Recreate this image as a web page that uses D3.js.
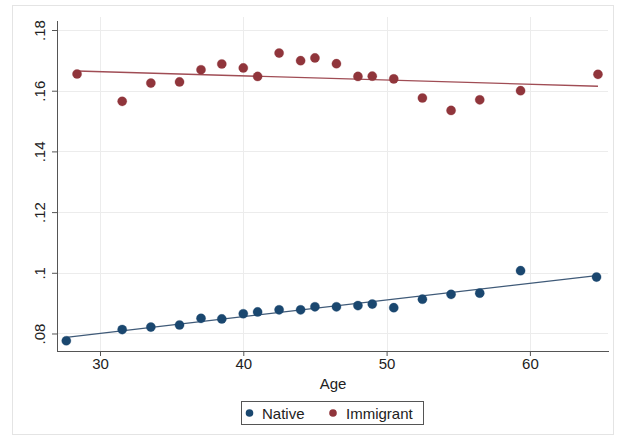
<!DOCTYPE html>
<html><head><meta charset="utf-8">
<script src="https://cdn.jsdelivr.net/npm/d3@7"></script>
<style>body{margin:0;background:#fff;}svg{display:block;font-family:"Liberation Sans",Arial,sans-serif;}</style>
</head><body><svg id="c" width="621" height="447"></svg>
<script>
const ages = [28.4, 31.55, 33.55, 35.55, 37.05, 38.5, 40.0, 41.0, 42.5, 44.0, 45.0, 46.5, 48.0, 49.0, 50.5, 52.5, 54.5, 56.5, 59.35, 64.75];
const nativeAges = [27.65, 31.55, 33.55, 35.55, 37.05, 38.5, 40.0, 41.0, 42.5, 44.0, 45.0, 46.5, 48.0, 49.0, 50.5, 52.5, 54.5, 56.5, 59.35, 64.65];
const nativeVals = [0.0776, 0.0813, 0.0821, 0.0828, 0.0850, 0.0848, 0.0865, 0.0871, 0.0878, 0.0878, 0.0888, 0.0888, 0.0892, 0.0897, 0.0885, 0.0913, 0.0929, 0.0933, 0.1007, 0.0986];
const immigrantVals = [0.1655, 0.1565, 0.1625, 0.1629, 0.1669, 0.1688, 0.1675, 0.1647, 0.1724, 0.1699, 0.1708, 0.1689, 0.1647, 0.1648, 0.1639, 0.1576, 0.1535, 0.1570, 0.1600, 0.1654];
const xTicks = [30, 40, 50, 60];
const yTicks = [0.08, 0.10, 0.12, 0.14, 0.16, 0.18];
const yTickLabels = [".08", ".1", ".12", ".14", ".16", ".18"];
const seriesNames = ["Native", "Immigrant"];
const colors = ["#1a476f", "#90353b"];
const lineColors = ["#3f5a78", "#a04d55"];

const svg = d3.select("#c");
const L = 57, R = 609, T = 21, B = 351;
const x = d3.scaleLinear().domain([27.0, 65.52]).range([L, R]);
const y = d3.scaleLinear().domain([0.07423, 0.18297]).range([B, T]);

// outer frame
svg.append("rect").attr("x", 12.5).attr("y", 5.5).attr("width", 601).attr("height", 429)
  .attr("fill", "#fff").attr("stroke", "#e4e4e4").attr("stroke-width", 1);

// gridlines
svg.append("g").selectAll("line").data(yTicks).join("line")
  .attr("x1", L).attr("x2", R - 1).attr("y1", d => Math.round(y(d)) + 0.5).attr("y2", d => Math.round(y(d)) + 0.5)
  .attr("stroke", "#ececec").attr("stroke-width", 1);
svg.append("g").selectAll("line").data(xTicks).join("line")
  .attr("x1", d => Math.round(x(d)) + 0.5).attr("x2", d => Math.round(x(d)) + 0.5).attr("y1", 17).attr("y2", B)
  .attr("stroke", "#ececec").attr("stroke-width", 1);

// axes
const yAxis = d3.axisLeft(y).tickValues(yTicks).tickSize(5).tickFormat((d, i) => yTickLabels[i]);
const gy = svg.append("g").attr("transform", `translate(${L},0)`).call(yAxis);
gy.select(".domain").remove();
gy.selectAll(".tick line").attr("stroke", "#555");
gy.selectAll(".tick text").attr("font-size", 15).attr("fill", "#222").attr("x", 0).attr("dy", 0)
  .attr("text-anchor", "middle").attr("transform", "translate(-12,0) rotate(-90)").attr("y", 0);
svg.append("line").attr("x1", L + 0.5).attr("x2", L + 0.5).attr("y1", T).attr("y2", B).attr("stroke", "#555");

const xAxis = d3.axisBottom(x).tickValues(xTicks).tickSize(5).tickFormat(d3.format("d"));
const gx = svg.append("g").attr("transform", `translate(0,${B})`).call(xAxis);
gx.select(".domain").remove();
gx.selectAll(".tick line").attr("stroke", "#555");
gx.selectAll(".tick text").attr("font-size", 15).attr("fill", "#222").attr("y", 7).attr("dy", "0.71em");
svg.append("line").attr("x1", L).attr("x2", R).attr("y1", B + 0.5).attr("y2", B + 0.5).attr("stroke", "#555");

svg.append("text").attr("x", (L + R) / 2).attr("y", 389).attr("text-anchor", "middle")
  .attr("font-size", 15).attr("fill", "#222").text("Age");

// fit lines (OLS)
function ols(xs, ys) {
  const mx = d3.mean(xs), my = d3.mean(ys);
  let sxy = 0, sxx = 0;
  xs.forEach((v, i) => { sxy += (v - mx) * (ys[i] - my); sxx += (v - mx) * (v - mx); });
  const b = sxy / sxx; return { a: my - b * mx, b };
}
const series = [
  { xs: nativeAges, ys: nativeVals },
  { xs: ages, ys: immigrantVals }
];
series.forEach((s, k) => {
  const f = ols(s.xs, s.ys);
  const x0 = d3.min(s.xs), x1 = d3.max(s.xs);
  svg.append("line").attr("x1", x(x0)).attr("y1", y(f.a + f.b * x0)).attr("x2", x(x1)).attr("y2", y(f.a + f.b * x1))
    .attr("stroke", lineColors[k]).attr("stroke-width", 1.3);
});
series.forEach((s, k) => {
  svg.append("g").selectAll("circle").data(s.xs.map((v, i) => [v, s.ys[i]])).join("circle")
    .attr("cx", d => x(d[0])).attr("cy", d => y(d[1])).attr("r", 4.6)
    .attr("fill", colors[k]).attr("stroke", colors[k]).attr("stroke-opacity", 0.5).attr("stroke-width", 0.6);
});

// legend
const lg = svg.append("g");
lg.append("rect").attr("x", 241.5).attr("y", 401.5).attr("width", 182).attr("height", 23)
  .attr("fill", "#fff").attr("stroke", "#555").attr("stroke-width", 1);
const lx = [249.5, 333];
const tx = [262, 346];
seriesNames.forEach((n, k) => {
  lg.append("circle").attr("cx", lx[k]).attr("cy", 413).attr("r", 3.8).attr("fill", colors[k]);
  lg.append("text").attr("x", tx[k]).attr("y", 418.5).attr("font-size", 15).attr("fill", "#222").text(n);
});
</script></body></html>
